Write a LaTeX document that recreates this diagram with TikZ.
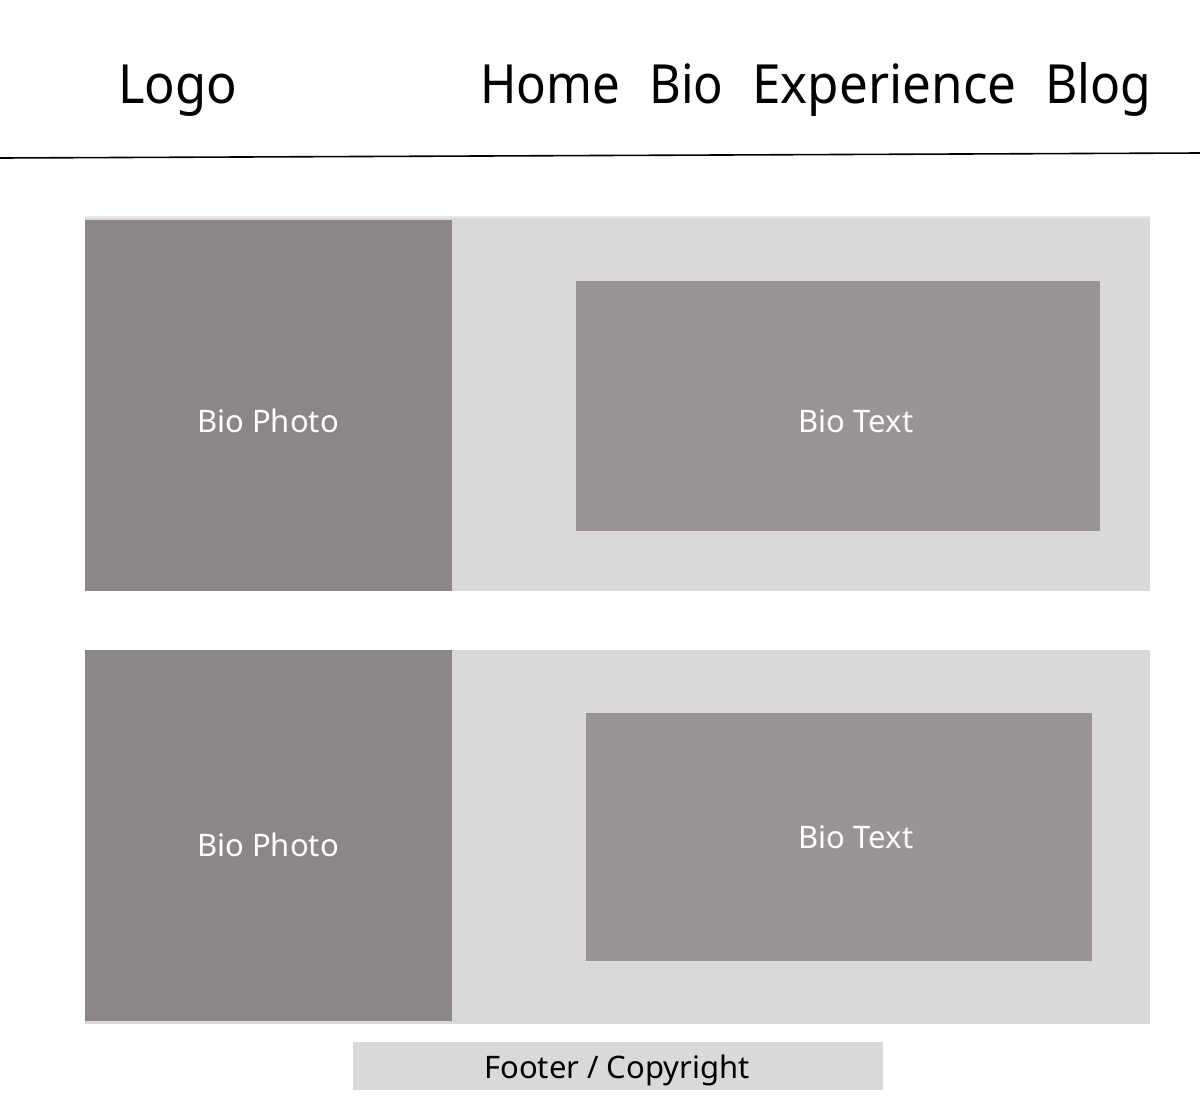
\documentclass[tikz,border=0pt]{standalone}
\usepackage{fontspec}
\usepackage{graphicx}
\setmainfont{Noto Sans}
\definecolor{panel}{HTML}{D9D9D9}
\definecolor{photo}{HTML}{8C8786}
\definecolor{textbox}{HTML}{9A9594}
% header words set to a fixed width, keeping their natural height
\newcommand{\navword}[2]{\resizebox{#1}{\height}{#2}}
\begin{document}
\begin{tikzpicture}[x=0.5pt,y=-0.5pt,
  navtext/.style={anchor=base west,inner sep=0pt,font=\fontsize{27}{30}\selectfont},
  blocklabel/.style={inner sep=0pt,text=white,font=\fontsize{15.5}{18}\selectfont},
  panelbox/.style={fill=panel,draw=none},
  photobox/.style={fill=photo,draw=none},
  textboxstyle/.style={fill=textbox,draw=none}]
\useasboundingbox[fill=white] (0,0) rectangle (1200,1104);

% header
\node[navtext] (logo) at (118,103) {\navword{59.5pt}{Logo}};
\node[navtext] (home) at (480,103) {\navword{70pt}{Home}};
\node[navtext] (bio) at (649,103) {\navword{37pt}{Bio}};
\node[navtext] (exp) at (752,103) {\navword{132pt}{Experience}};
\node[navtext] (blog) at (1045,103) {\navword{53pt}{Blog}};
\coordinate (hl) at (0,158);
\coordinate (hr) at (1200,153);
\draw[line width=0.8pt] (hl) -- (hr);

% first bio section
\fill[panel!60] (85,216) rectangle (1150,220);
\fill[panelbox] (85,218) rectangle (1150,591);
\fill[photobox] (85,220) rectangle (452,591);
\fill[textboxstyle] (576,281) rectangle (1100,531);
\node[blocklabel] (photoA) at (268,421) {Bio Photo};
\node[blocklabel] (textA) at (856,421) {Bio Text};

% second bio section
\fill[panelbox] (85,650) rectangle (1150,1024);
\fill[photobox] (85,650) rectangle (452,1021);
\fill[textboxstyle] (586,713) rectangle (1092,961);
\node[blocklabel] (photoB) at (268,845) {Bio Photo};
\node[blocklabel] (textB) at (856,837) {Bio Text};

% footer
\fill[panelbox] (353,1042) rectangle (883,1090);
\node[anchor=base,inner sep=0pt,font=\fontsize{15.5}{18}\selectfont] (footer) at (617,1078) {Footer / Copyright};
\end{tikzpicture}
\end{document}
